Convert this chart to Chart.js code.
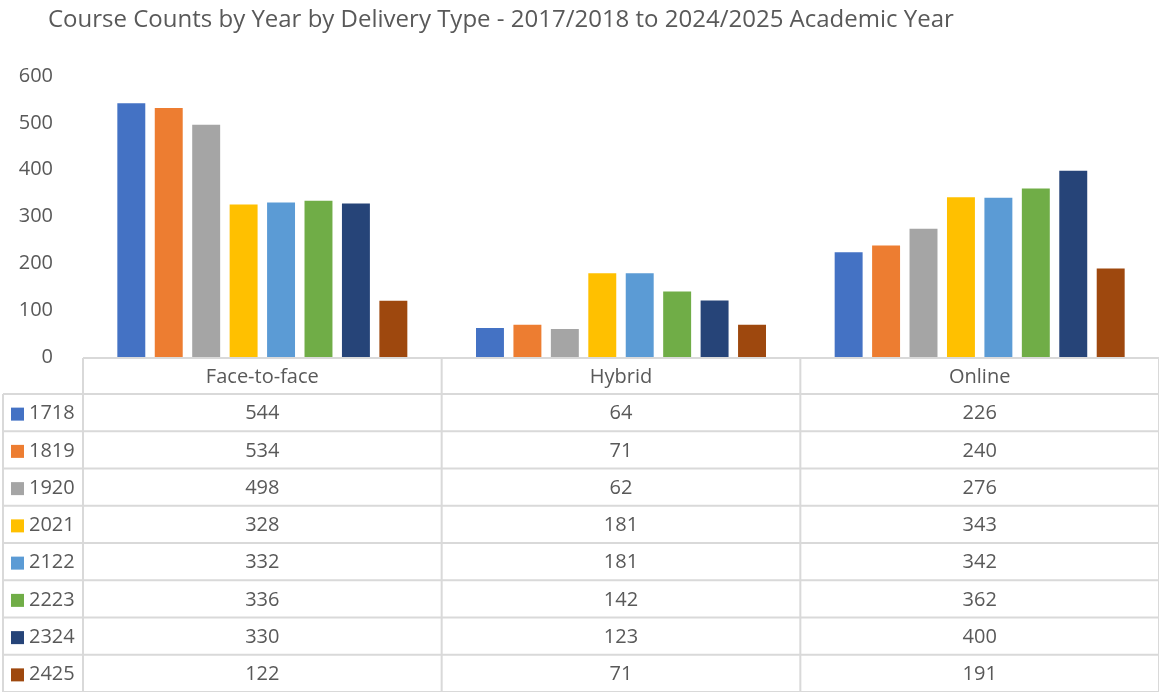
<!DOCTYPE html>
<html>
<head>
<meta charset="utf-8">
<script src="https://cdn.jsdelivr.net/npm/chart.js@4.4.1/dist/chart.umd.min.js"></script>
<style>
  body { margin: 0; background: #fff; }
  #wrap { width: 1159px; height: 692px; position: relative; }
</style>
</head>
<body>
<div id="wrap"><canvas id="myChart"></canvas></div>
<script>
// delivery types along the x axis
const categories = ['Face-to-face', 'Hybrid', 'Online'];

// academic years (series)
const years = ['1718', '1819', '1920', '2021', '2122', '2223', '2324', '2425'];

// course counts per year, in category order
const y1718 = [544, 64, 226];
const y1819 = [534, 71, 240];
const y1920 = [498, 62, 276];
const y2021 = [328, 181, 343];
const y2122 = [332, 181, 342];
const y2223 = [336, 142, 362];
const y2324 = [330, 123, 400];
const y2425 = [122, 71, 191];

const seriesValues = [y1718, y1819, y1920, y2021, y2122, y2223, y2324, y2425];

// office colour set
const seriesColors = ['#4472C4', '#ED7D31', '#A5A5A5', '#FFC000', '#5B9BD5', '#70AD47', '#264478', '#9E480E'];

const yTicks = [0, 100, 200, 300, 400, 500, 600];

const titleText = 'Course Counts by Year by Delivery Type - 2017/2018 to 2024/2025 Academic Year';
const fontFamily = "'Open Sans', 'Noto Sans', sans-serif";
const textColor = '#595959';
const lineColor = '#D9D9D9';

//build datasets from the arrays
const datasets = [];
for (let i = 0; i < years.length; i++) {
  datasets.push({
    label: years[i],
    data: seriesValues[i],
    backgroundColor: seriesColors[i],
    borderColor: '#ffffff',
    borderWidth: 1,
    categoryPercentage: 0.835,
    barPercentage: 0.8
  });
}

// title and the data table under the plot
const tablePlugin = {
  id: 'dataTable',
  afterDraw(chart) {
    const ctx = chart.ctx;
    const xs = chart.scales.x;
    const area = chart.chartArea;
    const left = area.left, right = area.right;
    const colW = (right - left) / categories.length;
    const headTop = area.bottom + 1;
    const rowH = 37.25;
    const headBottom = headTop + 36;
    const tableLeft = 3;

    ctx.save();
    // title
    ctx.fillStyle = textColor;
    ctx.font = '24px ' + fontFamily;
    ctx.textAlign = 'left';
    ctx.textBaseline = 'middle';
    ctx.fillText(titleText, 48, 20);

    ctx.strokeStyle = lineColor;
    ctx.lineWidth = 2;

    // header box
    ctx.beginPath();
    ctx.moveTo(left, headTop); ctx.lineTo(right, headTop);
    for (let c = 0; c <= categories.length; c++) {
      const x = left + c * colW;
      ctx.moveTo(x, headTop); ctx.lineTo(x, headBottom + rowH * years.length);
    }
    ctx.moveTo(tableLeft, headBottom); ctx.lineTo(right, headBottom);
    ctx.moveTo(tableLeft, headBottom); ctx.lineTo(tableLeft, headBottom + rowH * years.length);
    for (let r = 1; r <= years.length; r++) {
      const y = headBottom + r * rowH;
      ctx.moveTo(tableLeft, y); ctx.lineTo(right, y);
    }
    ctx.stroke();

    ctx.font = '20px ' + fontFamily;
    ctx.fillStyle = textColor;
    ctx.textAlign = 'center';
    for (let c = 0; c < categories.length; c++) {
      const cx = xs.getPixelForValue(c);
      ctx.fillText(categories[c], cx, (headTop + headBottom) / 2 + 1);
    }

    for (let r = 0; r < years.length; r++) {
      const cy = headBottom + r * rowH + rowH / 2 + 1;
      ctx.fillStyle = seriesColors[r];
      ctx.fillRect(11, cy - 6, 13, 13);
      ctx.fillStyle = textColor;
      ctx.textAlign = 'left';
      ctx.fillText(years[r], 29, cy);
      ctx.textAlign = 'center';
      for (let c = 0; c < categories.length; c++) {
        ctx.fillText(String(seriesValues[r][c]), xs.getPixelForValue(c), cy);
      }
    }
    ctx.restore();
  }
};

const config = {
  type: 'bar',
  data: { labels: categories, datasets: datasets },
  options: {
    responsive: true,
    maintainAspectRatio: false,
    animation: false,
    layout: { padding: { top: 76, bottom: 335, left: 0, right: 0 } },
    plugins: {
      legend: { display: false },
      title: { display: false },
      tooltip: { enabled: false }
    },
    scales: {
      x: { display: false },
      y: {
        min: 0,
        max: 600,
        grid: { display: false },
        border: { display: false },
        afterFit(scale) { scale.width = 83; },
        afterBuildTicks(scale) { scale.ticks = yTicks.map(v => ({ value: v })); },
        ticks: {
          color: textColor,
          padding: 22,
          font: { family: fontFamily, size: 20 }
        }
      }
    }
  },
  plugins: [tablePlugin]
};

const myChart = new Chart(document.getElementById('myChart'), config);
</script>
</body>
</html>
